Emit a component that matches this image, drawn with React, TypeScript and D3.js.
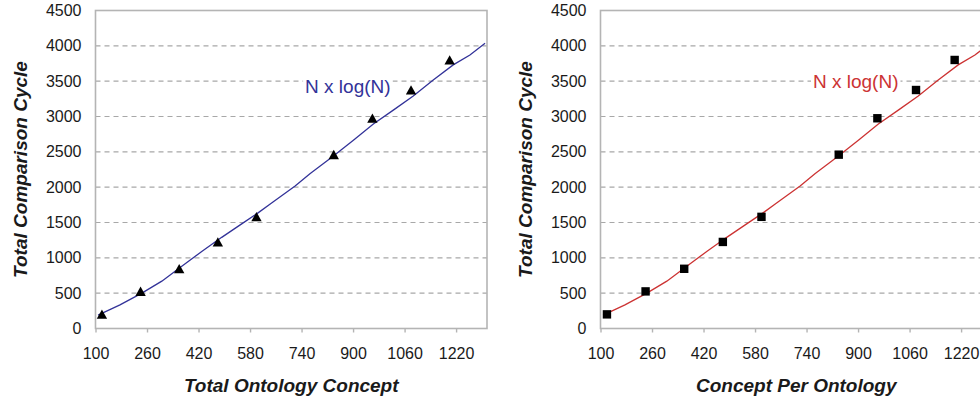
import { useEffect, useRef } from 'react';
import * as d3 from 'd3';

// measured points (same run plotted in both panels)
const conceptCounts = [120, 240, 360, 480, 600, 840, 960, 1080, 1200];
const comparisonCycles = [200, 525, 845, 1225, 1580, 2460, 2975, 3375, 3800];

// N x log(N) reference curve
const curveN = [108, 176, 244, 306, 368, 430, 492, 554, 606, 647, 720, 766, 839, 901, 963, 1025, 1087, 1149, 1211, 1263, 1310];
const curveValues = [190, 335, 500, 670, 880, 1090, 1290, 1480, 1640, 1775, 2015, 2190, 2440, 2665, 2895, 3090, 3290, 3515, 3730, 3870, 4035];

const xTicks = [100, 260, 420, 580, 740, 900, 1060, 1220];
const yTicks = [0, 500, 1000, 1500, 2000, 2500, 3000, 3500, 4000, 4500];
const curveLabel = 'N x log(N)';
const yTitle = 'Total Comparison Cycle';

const FONT = '"Liberation Sans", Arial, sans-serif';

type Pt = { n: number; v: number };

function ComparisonChart({
  offsetX,
  color,
  marker,
  xTitle,
  labelAt,
  id,
}: {
  offsetX: number;
  color: string;
  marker: 'triangle' | 'square';
  xTitle: string;
  labelAt: [number, number];
  id: string;
}) {
  const gRef = useRef<SVGGElement | null>(null);

  useEffect(() => {
    if (!gRef.current) return;
    const g = d3.select(gRef.current);
    g.selectAll('*').remove();

    const left = 95.5;
    const width = 391.5;
    const top = 10.5;
    const bottom = 328.5;

    const x = d3.scaleLinear().domain([100, 1316]).range([left, left + width]);
    const y = d3.scaleLinear().domain([0, 4500]).range([bottom, top]);

    g.append('clipPath')
      .attr('id', id)
      .append('rect')
      .attr('x', left)
      .attr('y', top)
      .attr('width', width)
      .attr('height', bottom - top);

    // dashed horizontal grid
    g.append('g')
      .selectAll('line')
      .data(yTicks.filter((t) => t > 0 && t < 4500))
      .join('line')
      .attr('x1', left)
      .attr('x2', left + width)
      .attr('y1', (d) => y(d))
      .attr('y2', (d) => y(d))
      .attr('stroke', '#a8a8a8')
      .attr('stroke-width', 1.2)
      .attr('stroke-dasharray', '5,4');

    // plot frame
    g.append('rect')
      .attr('x', left)
      .attr('y', top)
      .attr('width', width)
      .attr('height', bottom - top)
      .attr('fill', 'none')
      .attr('stroke', '#b4b4b4')
      .attr('stroke-width', 1.6);

    const yAxis = g
      .append('g')
      .attr('transform', `translate(${left},0)`)
      .call(d3.axisLeft(y).tickValues(yTicks).tickSize(0).tickPadding(14).tickFormat(d3.format('d')));
    yAxis.select('.domain').remove();
    yAxis.selectAll('text').attr('fill', '#1a1a1a').style('font-size', '16px').style('font-family', FONT);

    const xAxis = g
      .append('g')
      .attr('transform', `translate(0,${bottom})`)
      .call(d3.axisBottom(x).tickValues(xTicks).tickSize(4).tickPadding(15).tickFormat(d3.format('d')));
    xAxis.select('.domain').remove();
    xAxis.selectAll('line').attr('stroke', '#b4b4b4').attr('stroke-width', 1.4);
    xAxis.selectAll('text').attr('fill', '#1a1a1a').style('font-size', '16px').style('font-family', FONT);

    g.append('text')
      .attr('x', left + width / 2)
      .attr('y', 392)
      .attr('text-anchor', 'middle')
      .attr('fill', '#1a1a1a')
      .style('font', `italic bold 19px ${FONT}`)
      .text(xTitle);

    g.append('text')
      .attr('transform', `translate(27,${(top + bottom) / 2}) rotate(-90)`)
      .attr('text-anchor', 'middle')
      .attr('fill', '#1a1a1a')
      .style('font', `italic bold 19px ${FONT}`)
      .text(yTitle);

    const plot = g.append('g').attr('clip-path', `url(#${id})`);

    const curve: Pt[] = curveN.map((n, i) => ({ n, v: curveValues[i] }));
    const line = d3
      .line<Pt>()
      .x((d) => x(d.n))
      .y((d) => y(d.v));
    plot
      .append('path')
      .datum(curve)
      .attr('fill', 'none')
      .attr('stroke', color)
      .attr('stroke-width', 1.3)
      .attr('d', line);

    // curve label with a white box that breaks the gridline
    const label = plot
      .append('text')
      .attr('x', x(labelAt[0]))
      .attr('y', y(labelAt[1]))
      .attr('fill', color)
      .style('font-size', '19px')
      .style('font-family', FONT)
      .text(curveLabel);
    const bb = (label.node() as SVGTextElement).getBBox();
    plot
      .insert('rect', 'text')
      .attr('x', bb.x - 2)
      .attr('y', bb.y)
      .attr('width', bb.width + 4)
      .attr('height', bb.height)
      .attr('fill', '#fff');

    const pts: Pt[] = conceptCounts.map((n, i) => ({ n, v: comparisonCycles[i] }));
    if (marker === 'triangle') {
      plot
        .append('g')
        .selectAll('path')
        .data(pts)
        .join('path')
        .attr('d', (d) => {
          const cx = x(d.n);
          const cy = y(d.v);
          return `M${cx},${cy - 4.8}L${cx + 5.2},${cy + 4.5}L${cx - 5.2},${cy + 4.5}Z`;
        })
        .attr('fill', '#000');
    } else {
      plot
        .append('g')
        .selectAll('rect')
        .data(pts)
        .join('rect')
        .attr('x', (d) => x(d.n) - 4.2)
        .attr('y', (d) => y(d.v) - 4.2)
        .attr('width', 8.4)
        .attr('height', 8.4)
        .attr('fill', '#000');
    }
  }, [offsetX, color, marker, xTitle, labelAt, id]);

  return <g ref={gRef} transform={`translate(${offsetX},0)`} />;
}

export default function App() {
  return (
    <svg
      width={980}
      height={405}
      style={{ position: 'absolute', left: 0, top: 0, background: '#fff', display: 'block' }}
    >
      <ComparisonChart
        id="clip-left"
        offsetX={0}
        color="#333399"
        marker="triangle"
        xTitle="Total Ontology Concept"
        labelAt={[751, 3330]}
      />
      <ComparisonChart
        id="clip-right"
        offsetX={505}
        color="#cc3333"
        marker="square"
        xTitle="Concept Per Ontology"
        labelAt={[760, 3403]}
      />
    </svg>
  );
}
